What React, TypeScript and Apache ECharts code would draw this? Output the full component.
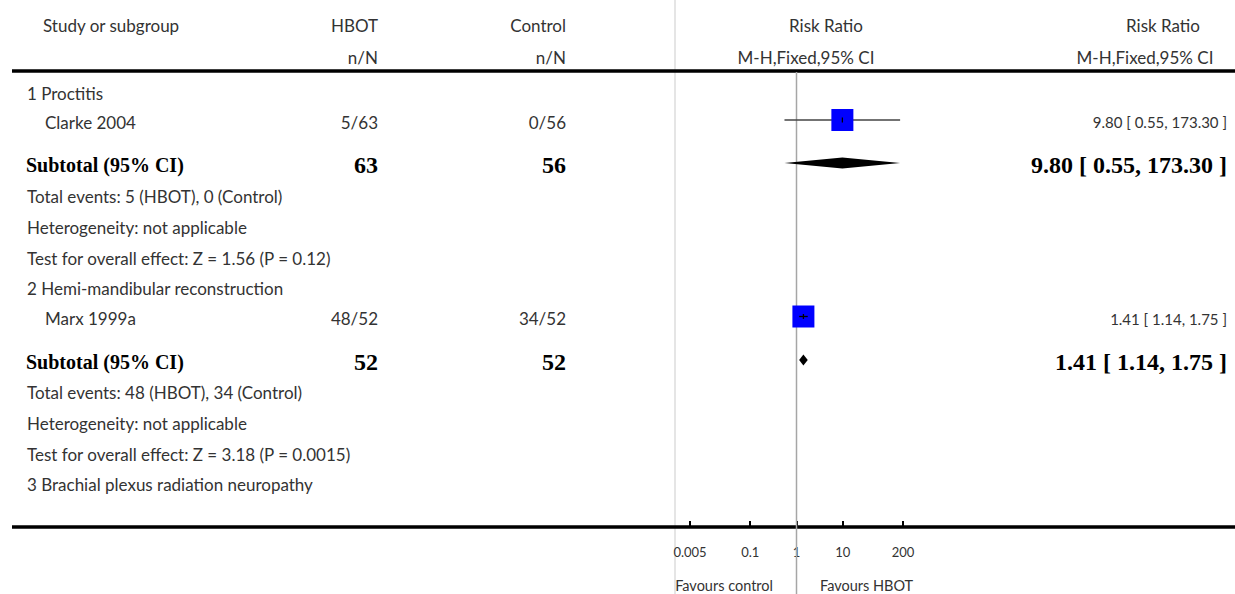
import React, { useEffect, useRef } from "react";
import * as echarts from "echarts";

// ---------- data ----------
const groupTitles = [
  "1 Proctitis",
  "2 Hemi-mandibular reconstruction",
  "3 Brachial plexus radiation neuropathy",
];
const studyNames = ["Clarke 2004", "Marx 1999a"];
const hbotEvents = [5, 48];
const hbotTotals = [63, 52];
const controlEvents = [0, 34];
const controlTotals = [56, 52];
const studyRR = [9.8, 1.41];
const studyLow = [0.55, 1.14];
const studyHigh = [173.3, 1.75];
const subtotalRR = [9.8, 1.41];
const subtotalLow = [0.55, 1.14];
const subtotalHigh = [173.3, 1.75];
const subtotalZ = ["1.56", "3.18"];
const subtotalP = ["0.12", "0.0015"];
const axisTickValues = [0.005, 0.1, 1, 10, 200];
const axisTickLabels = ["0.005", "0.1", "1", "10", "200"];

// ---------- layout ----------
const W = 1235;
const H = 594;
const PLOT_LEFT = 690;
const PLOT_RIGHT = 903;
const GRID_TOP = 72;
const AXIS_Y = 527;
// row centres (px) for the 13 table rows
const ROW_Y = [91, 120, 163, 194, 225, 256, 286, 316.5, 360, 390, 421, 452, 482];
const TEXT_DY = 2;
const COL_HBOT = 378;
const COL_CTRL = 566;
const COL_RR = 1227;
const SQUARE = 22;
const DIAMOND_H = 11;

const SANS = "Lato, 'DejaVu Sans', sans-serif";
const SERIF = "'Liberation Serif', 'DejaVu Serif', serif";
const TXT = "#333";

const fmt = (v: number) => v.toFixed(2);
const ciText = (r: number, l: number, h: number) => `${fmt(r)} [ ${fmt(l)}, ${fmt(h)} ]`;

function buildGraphics() {
  const g: any[] = [];
  const txt = (text: string, x: number, y: number, opts: any = {}) =>
    g.push({
      type: "text",
      silent: true,
      style: {
        text,
        x,
        y,
        align: opts.align || "left",
        verticalAlign: "middle",
        fill: opts.fill || TXT,
        fontSize: opts.size || 17,
        fontFamily: opts.family || SANS,
        fontWeight: opts.weight || "normal",
      },
    });
  const bold = { family: SERIF, weight: "bold", size: 24, fill: "#000" };

  // header
  txt("Study or subgroup", 43, 25);
  txt("HBOT", COL_HBOT, 25, { align: "right" });
  txt("n/N", COL_HBOT, 57, { align: "right" });
  txt("Control", COL_CTRL, 25, { align: "right" });
  txt("n/N", COL_CTRL, 57, { align: "right" });
  txt("Risk Ratio", 826, 25, { align: "center" });
  txt("M-H,Fixed,95% CI", 806, 57, { align: "center" });
  txt("Risk Ratio", 1163, 25, { align: "center" });
  txt("M-H,Fixed,95% CI", 1145, 57, { align: "center" });

  // separator lines
  g.push({
    type: "line",
    silent: true,
    z: 0,
    shape: { x1: 675, y1: 0, x2: 675, y2: H },
    style: { stroke: "#dcdcdc", lineWidth: 1.5 },
  });
  g.push({
    type: "line",
    silent: true,
    shape: { x1: 12, y1: 71, x2: W, y2: 71 },
    style: { stroke: "#000", lineWidth: 3.5 },
  });
  g.push({
    type: "line",
    silent: true,
    shape: { x1: 12, y1: AXIS_Y, x2: W, y2: AXIS_Y },
    style: { stroke: "#000", lineWidth: 3.5 },
  });

  // body rows
  let r = 0;
  groupTitles.forEach((title, gi) => {
    txt(title, 27, ROW_Y[r++] + TEXT_DY);
    if (gi >= studyNames.length) return;
    const y = ROW_Y[r++] + TEXT_DY;
    txt(studyNames[gi], 45, y);
    txt(`${hbotEvents[gi]}/${hbotTotals[gi]}`, COL_HBOT, y, { align: "right" });
    txt(`${controlEvents[gi]}/${controlTotals[gi]}`, COL_CTRL, y, { align: "right" });
    txt(ciText(studyRR[gi], studyLow[gi], studyHigh[gi]), COL_RR, y, { align: "right", size: 15 });
    const ys = ROW_Y[r++] + TEXT_DY;
    txt("Subtotal (95% CI)", 26, ys, { ...bold, size: 20 });
    txt(String(hbotTotals[gi]), COL_HBOT, ys, { ...bold, align: "right" });
    txt(String(controlTotals[gi]), COL_CTRL, ys, { ...bold, align: "right" });
    txt(ciText(subtotalRR[gi], subtotalLow[gi], subtotalHigh[gi]), COL_RR, ys, { ...bold, align: "right" });
    txt(`Total events: ${hbotEvents[gi]} (HBOT), ${controlEvents[gi]} (Control)`, 27, ROW_Y[r++] + TEXT_DY);
    txt("Heterogeneity: not applicable", 27, ROW_Y[r++] + TEXT_DY);
    txt(`Test for overall effect: Z = ${subtotalZ[gi]} (P = ${subtotalP[gi]})`, 27, ROW_Y[r++] + TEXT_DY);
  });

  // favours labels
  txt("Favours control", 773, 585, { align: "right", size: 14.5 });
  txt("Favours HBOT", 820, 585, { align: "left", size: 14.5 });
  return g;
}

function studyRowsY() {
  const ys: number[] = [];
  const ss: number[] = [];
  let r = 0;
  groupTitles.forEach((_, gi) => {
    r++;
    if (gi >= studyNames.length) return;
    ys.push(ROW_Y[r++]);
    ss.push(ROW_Y[r++]);
    r += 3;
  });
  return { ys, ss };
}

export default function App() {
  const ref = useRef<HTMLDivElement>(null);
  useEffect(() => {
    document.body.style.margin = "0";
    if (!ref.current) return;
    const chart = echarts.init(ref.current, undefined, { renderer: "svg" });
    const L = Math.log10;
    const { ys, ss } = studyRowsY();
    const studyData = studyRR.map((v, i) => [L(v), L(studyLow[i]), L(studyHigh[i]), ys[i]]);
    const subData = subtotalRR.map((v, i) => [L(v), L(subtotalLow[i]), L(subtotalHigh[i]), ss[i]]);
    const tickLogs = axisTickValues.map((v) => L(v));

    chart.setOption({
      animation: false,
      grid: {
        left: PLOT_LEFT,
        width: PLOT_RIGHT - PLOT_LEFT,
        top: GRID_TOP,
        height: H - GRID_TOP,
        containLabel: false,
      },
      xAxis: {
        type: "value",
        min: L(axisTickValues[0]),
        max: L(axisTickValues[axisTickValues.length - 1]),
        offset: -(H - AXIS_Y),
        axisLine: { show: false },
        splitLine: { show: false },
        axisTick: {
          show: true,
          inside: true,
          length: 6,
          customValues: tickLogs,
          lineStyle: { color: "#000", width: 2 },
        },
        axisLabel: {
          show: true,
          customValues: tickLogs,
          margin: 18,
          color: TXT,
          fontSize: 13,
          fontFamily: SANS,
          showMinLabel: true,
          showMaxLabel: true,
          formatter: (v: number) => {
            let best = 0;
            tickLogs.forEach((t, i) => {
              if (Math.abs(t - v) < Math.abs(tickLogs[best] - v)) best = i;
            });
            return axisTickLabels[best];
          },
        },
      },
      yAxis: {
        type: "value",
        min: GRID_TOP,
        max: H,
        inverse: true,
        show: false,
      },
      graphic: buildGraphics(),
      series: [
        {
          type: "line",
          data: [
            [0, GRID_TOP],
            [0, H],
          ],
          symbol: "none",
          lineStyle: { color: "#a6a6a6", width: 1.5 },
          silent: true,
          z: 1,
        },
        {
          type: "custom",
          z: 3,
          silent: true,
          data: studyData,
          renderItem: (params: any, api: any) => {
            const p = api.coord([api.value(0), api.value(3)]);
            const pl = api.coord([api.value(1), api.value(3)]);
            const ph = api.coord([api.value(2), api.value(3)]);
            const inside = ph[0] - pl[0] < SQUARE;
            const ci = {
              type: "line",
              shape: { x1: pl[0], y1: p[1], x2: ph[0], y2: p[1] },
              style: { stroke: inside ? "#000" : "#444", lineWidth: 1.3 },
            };
            const children: any[] = [];
            if (!inside) children.push(ci);
            children.push({
              type: "rect",
              shape: { x: p[0] - SQUARE / 2, y: p[1] - SQUARE / 2, width: SQUARE, height: SQUARE },
              style: { fill: "#0000ff" },
            });
            if (inside) children.push(ci);
            children.push({
              type: "line",
              shape: { x1: p[0], y1: p[1] - 2.5, x2: p[0], y2: p[1] + 2.5 },
              style: { stroke: "#000", lineWidth: 1.3 },
            });
            return { type: "group", children };
          },
        },
        {
          type: "custom",
          z: 3,
          silent: true,
          data: subData,
          renderItem: (params: any, api: any) => {
            const p = api.coord([api.value(0), api.value(3)]);
            const pl = api.coord([api.value(1), api.value(3)]);
            const ph = api.coord([api.value(2), api.value(3)]);
            return {
              type: "polygon",
              shape: {
                points: [
                  [pl[0], p[1]],
                  [p[0], p[1] - DIAMOND_H / 2],
                  [ph[0], p[1]],
                  [p[0], p[1] + DIAMOND_H / 2],
                ],
              },
              style: { fill: "#000" },
            };
          },
        },
      ],
    });
    return () => chart.dispose();
  }, []);
  return <div ref={ref} style={{ width: W, height: H }} />;
}
